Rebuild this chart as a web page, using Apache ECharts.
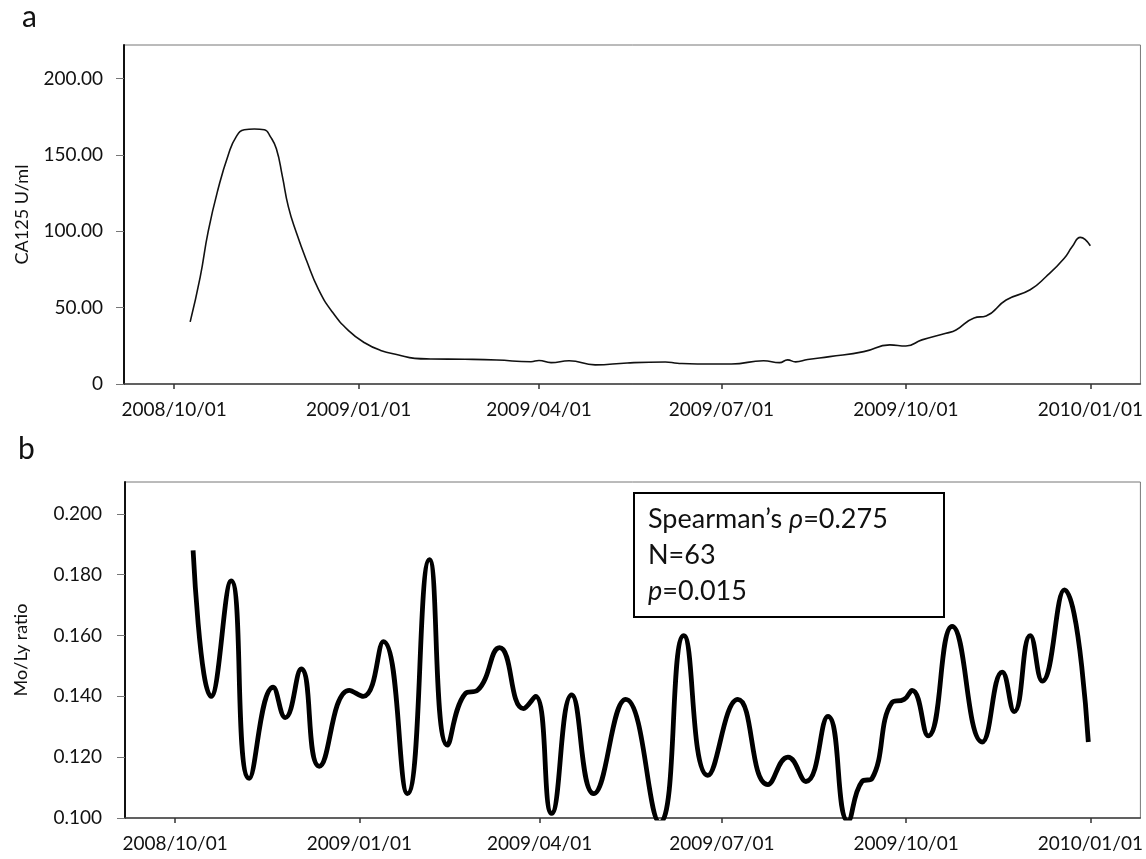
<!DOCTYPE html>
<html>
<head>
<meta charset="utf-8">
<title>CA125 and Mo/Ly ratio</title>
<script src="https://cdn.jsdelivr.net/npm/echarts@6/dist/echarts.min.js"></script>
<style>
  html, body { margin: 0; padding: 0; background: #fff; }
  #main { width: 1146px; height: 859px; }
</style>
</head>
<body>
<div id="main"></div>
<script>
// quarter ticks on both x axes
var tickLabels = ['2008/10/01', '2009/01/01', '2009/04/01', '2009/07/01', '2009/10/01', '2010/01/01'];

// panel a : CA125 U/ml
var caDates = ['2008-10-09', '2008-10-14', '2008-10-18', '2008-10-23', '2008-10-28', '2008-11-01',
  '2008-11-05', '2008-11-10', '2008-11-15', '2008-11-18', '2008-11-21', '2008-11-24', '2008-11-27',
  '2008-12-01', '2008-12-06', '2008-12-12', '2008-12-19', '2008-12-27', '2009-01-04', '2009-01-12',
  '2009-01-21', '2009-01-29', '2009-02-06', '2009-02-23', '2009-03-11', '2009-03-28', '2009-04-01',
  '2009-04-07', '2009-04-16', '2009-04-29', '2009-05-15', '2009-06-03', '2009-06-09', '2009-06-19',
  '2009-07-06', '2009-07-22', '2009-07-30', '2009-08-03', '2009-08-07', '2009-08-13', '2009-08-24',
  '2009-09-10', '2009-09-23', '2009-10-01', '2009-10-09', '2009-10-21', '2009-10-26', '2009-11-04',
  '2009-11-10', '2009-11-20', '2009-12-02', '2009-12-10', '2009-12-19', '2009-12-23', '2009-12-27',
  '2010-01-01'];
var caValues = [40.7, 70, 100, 128, 150, 162,
  166.5, 167, 166.5, 162, 154, 136, 116,
  99, 81, 62, 47, 35, 27, 22,
  19, 16.8, 16.4, 16.2, 15.7, 14.6, 15.4,
  14, 15.2, 12.5, 13.8, 14.4, 13.6, 13.1,
  13.1, 15.2, 14, 15.8, 14.5, 16, 17.9,
  21.2, 25.6, 24.9, 28.9, 33.2, 35.4, 43.3,
  44.6, 55, 61.7, 70.4, 82.4, 90, 96,
  90.5];
var caTicks = [0, 50, 100, 150, 200];

// panel b : Mo/Ly ratio
var ratioDates = ['2008-10-10', '2008-10-19', '2008-10-29', '2008-11-07', '2008-11-19', '2008-11-25',
  '2008-12-03', '2008-12-12', '2008-12-27', '2009-01-03', '2009-01-13', '2009-01-25', '2009-02-05',
  '2009-02-14', '2009-02-23', '2009-03-01', '2009-03-12', '2009-03-24', '2009-03-30', '2009-04-07',
  '2009-04-17', '2009-04-28', '2009-05-14', '2009-05-31', '2009-06-12', '2009-06-24', '2009-07-09',
  '2009-07-24', '2009-08-03', '2009-08-12', '2009-08-23', '2009-09-02', '2009-09-09', '2009-09-14',
  '2009-09-24', '2009-09-30', '2009-10-04', '2009-10-12', '2009-10-24', '2009-11-08', '2009-11-18',
  '2009-11-24', '2009-12-02', '2009-12-08', '2009-12-19', '2009-12-31'];
var ratioValues = [0.188, 0.140, 0.178, 0.113, 0.143, 0.133,
  0.149, 0.117, 0.142, 0.140, 0.158, 0.108, 0.185,
  0.124, 0.141, 0.142, 0.156, 0.136, 0.140, 0.1015,
  0.1405, 0.108, 0.139, 0.0985, 0.160, 0.114, 0.139,
  0.111, 0.120, 0.112, 0.1334, 0.099, 0.112, 0.113,
  0.138, 0.139, 0.142, 0.127, 0.163, 0.125, 0.148,
  0.135, 0.160, 0.145, 0.175, 0.125];
var ratioTicks = [0.10, 0.12, 0.14, 0.16, 0.18, 0.20];

var FONT = 'Lato, "Open Sans", sans-serif';

// dates -> ms timestamps, drawn on a plain value axis
function toTime(s) {
  var p = s.split(/[-\/]/);
  return new Date(+p[0], +p[1] - 1, +p[2]).getTime();
}
function pairs(dates, values) {
  var out = [];
  for (var i = 0; i < dates.length; i++) {
    out.push([toTime(dates[i]), values[i]]);
  }
  return out;
}
var tickTimes = tickLabels.map(toTime);

function xAxisFor(gridIndex) {
  return {
    type: 'value',
    gridIndex: gridIndex,
    min: toTime('2008-09-06'),
    max: toTime('2010-01-26'),
    axisLine: { lineStyle: { color: '#444', width: 1.5 } },
    axisTick: { show: true, customValues: tickTimes, length: 5, lineStyle: { color: '#333', width: 1.5 } },
    splitLine: { show: false },
    axisLabel: {
      customValues: tickTimes,
      margin: 16,
      fontFamily: FONT,
      fontSize: 19,
      color: '#111',
      formatter: function (v) {
        var i = tickTimes.indexOf(v);
        return i >= 0 ? tickLabels[i] : '';
      }
    }
  };
}

var chart = echarts.init(document.getElementById('main'));
var option = {
  animation: false,
  backgroundColor: '#ffffff',
  grid: [
    { left: 124, right: 3, top: 45, height: 339, show: true, borderColor: '#777', borderWidth: 1 },
    { left: 125, right: 4, top: 482, height: 336, show: true, borderColor: '#777', borderWidth: 1 }
  ],
  xAxis: [xAxisFor(0), xAxisFor(1)],
  yAxis: [{
    type: 'value',
    gridIndex: 0,
    min: 0,
    max: 222,
    name: 'CA125 U/ml',
    nameLocation: 'middle',
    nameGap: 93,
    nameTextStyle: { fontFamily: FONT, fontSize: 18, color: '#111' },
    axisLine: { show: true, lineStyle: { color: '#111', width: 2 } },
    axisTick: { show: true, customValues: caTicks, length: 8, lineStyle: { color: '#777' } },
    splitLine: { show: false },
    axisLabel: {
      customValues: caTicks,
      margin: 21,
      fontFamily: FONT,
      fontSize: 19,
      color: '#111',
      formatter: function (v) { return v === 0 ? '0' : v.toFixed(2); }
    }
  }, {
    type: 'value',
    gridIndex: 1,
    min: 0.1,
    max: 0.2105,
    name: 'Mo/Ly ratio',
    nameLocation: 'middle',
    nameGap: 95,
    nameTextStyle: { fontFamily: FONT, fontSize: 18, color: '#111' },
    axisLine: { show: true, lineStyle: { color: '#111', width: 2 } },
    axisTick: { show: true, customValues: ratioTicks, length: 8, lineStyle: { color: '#777' } },
    splitLine: { show: false },
    axisLabel: {
      customValues: ratioTicks,
      margin: 23,
      fontFamily: FONT,
      fontSize: 19,
      color: '#111',
      formatter: function (v) { return v.toFixed(3); }
    }
  }],
  series: [{
    type: 'line',
    xAxisIndex: 0,
    yAxisIndex: 0,
    data: pairs(caDates, caValues),
    smooth: true,
    showSymbol: false,
    lineStyle: { color: '#111', width: 1.6 }
  }, {
    type: 'line',
    xAxisIndex: 1,
    yAxisIndex: 1,
    data: pairs(ratioDates, ratioValues),
    smooth: true,
    showSymbol: false,
    clip: true,
    lineStyle: { color: '#000', width: 4.8 }
  }],
  graphic: [
    { type: 'text', left: 22, top: 2, style: { text: 'a', fontFamily: FONT, fontSize: 30, fill: '#111' } },
    { type: 'text', left: 18, top: 434, style: { text: 'b', fontFamily: FONT, fontSize: 30, fill: '#111' } },
    {
      type: 'rect',
      shape: { x: 634, y: 493, width: 310, height: 124 },
      style: { fill: '#fff', stroke: '#000', lineWidth: 2 },
      z: 10
    },
    {
      type: 'text',
      left: 648,
      top: 501,
      z: 11,
      style: {
        text: 'Spearman\u2019s {it|\u03c1}=0.275\nN=63\n{it|p}=0.015',
        fontFamily: FONT,
        fontSize: 27,
        lineHeight: 36,
        fill: '#111',
        rich: {
          it: { fontStyle: 'italic', fontFamily: FONT, fontSize: 27, lineHeight: 36, fill: '#111' }
        }
      }
    }
  ]
};
chart.setOption(option);
</script>
</body>
</html>
